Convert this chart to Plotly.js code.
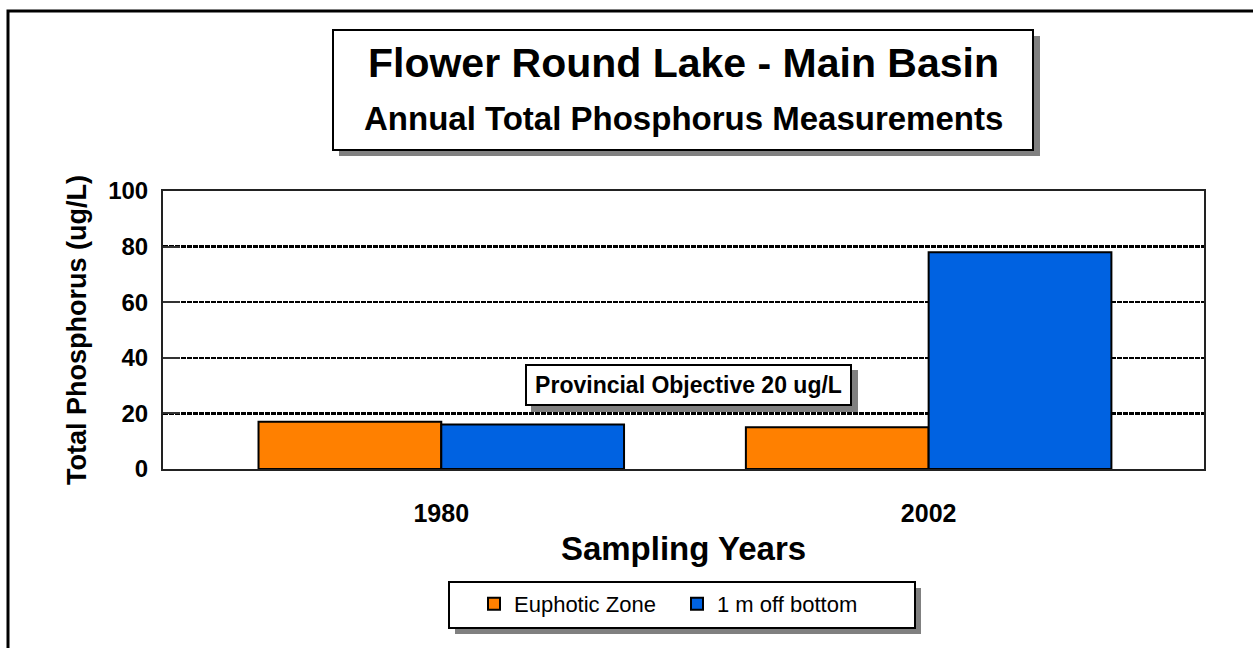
<!DOCTYPE html>
<html>
<head>
<meta charset="utf-8">
<script src="https://cdn.plot.ly/plotly-3.0.1.min.js"></script>
<style>
html,body{margin:0;padding:0;background:#fff;}
#chart{width:1253px;height:648px;}
</style>
</head>
<body>
<div id="chart"></div>
<script>
// ---- data ----
const years = ["1980", "2002"];
const euphoticZone = [17, 15];
const offBottom = [16, 78];
const seriesNames = ["Euphotic Zone", "1 m off bottom"];
const yTicks = [0, 20, 40, 60, 80, 100];
const titleText = "Flower Round Lake - Main Basin";
const subtitleText = "Annual Total Phosphorus Measurements";
const xTitle = "Sampling Years";
const yTitle = "Total Phosphorus (ug/L)";
const objectiveText = "Provincial Objective 20 ug/L";

// ---- layout helpers (page pixels -> paper coords) ----
const W = 1253, H = 648;
const L = 163, R = 1204, T = 191, B = 469;
const px = x => (x - L) / (R - L);
const py = y => (B - y) / (B - T);
const FONT = "Liberation Sans, Arial, sans-serif";

const traces = [
  {type: "bar", name: seriesNames[0], x: years, y: euphoticZone,
   marker: {color: "#FF8000", line: {color: "#000", width: 2}}},
  {type: "bar", name: seriesNames[1], x: years, y: offBottom,
   marker: {color: "#0062E1", line: {color: "#000", width: 2}}}
];

function rect(x0, y0, x1, y1, fill, lineColor, lw) {
  return {type: "rect", xref: "paper", yref: "paper",
    x0: px(x0), x1: px(x1), y0: py(y1), y1: py(y0),
    fillcolor: fill, line: {color: lineColor, width: lw}, layer: "above"};
}

const shapes = [
  // outer frame
  {type: "rect", xref: "paper", yref: "paper", x0: px(8), x1: px(1270), y0: py(670), y1: py(11),
   fillcolor: "rgba(0,0,0,0)", line: {color: "#000", width: 3}, layer: "below"},
  // title box shadow + box
  rect(339, 36, 1040, 156, "#808080", "#808080", 0),
  rect(333, 30, 1033, 150, "#fff", "#000", 2),
  // objective box shadow
  rect(531, 370, 858, 412, "#808080", "#808080", 0),
  // legend box shadow + box
  rect(455, 588, 921, 634, "#808080", "#808080", 0),
  rect(449, 582, 915, 628, "#fff", "#000", 2)
];

const annotations = [
  {xref: "paper", yref: "paper", x: px(683), y: py(63), text: "<b>" + titleText + "</b>",
   showarrow: false, font: {family: FONT, size: 41, color: "#000"}, xanchor: "center", yanchor: "middle"},
  {xref: "paper", yref: "paper", x: px(683), y: py(118), text: "<b>" + subtitleText + "</b>",
   showarrow: false, font: {family: FONT, size: 33, color: "#000"}, xanchor: "center", yanchor: "middle"},
  {xref: "paper", yref: "paper", x: px(688.5), y: py(385), text: "<b>" + objectiveText + "</b>",
   showarrow: false, font: {family: FONT, size: 23, color: "#000"}, xanchor: "center", yanchor: "middle",
   bgcolor: "#fff", bordercolor: "#000", borderwidth: 2, borderpad: 0, width: 323, height: 38}
];

const layout = {
  width: W, height: H,
  margin: {l: L, r: W - R, t: T, b: H - B, pad: 0},
  paper_bgcolor: "#fff", plot_bgcolor: "#fff",
  font: {family: FONT, color: "#000"},
  barmode: "group", bargap: 0.25, bargroupgap: 0,
  showlegend: true,
  legend: {orientation: "h", x: px(474), y: py(583), xanchor: "left", yanchor: "top",
    bgcolor: "rgba(0,0,0,0)", borderwidth: 0,
    font: {family: FONT, size: 22, color: "#000"}, itemwidth: 30, traceorder: "normal",
    entrywidth: 158, entrywidthmode: "pixels"},
  xaxis: {type: "category", range: [-0.571, 1.565], showgrid: false, zeroline: false,
    showline: true, linecolor: "#222", linewidth: 2, mirror: true, ticks: "",
    tickfont: {family: FONT, size: 25, color: "#000", weight: "bold"},
    ticklabelstandoff: 21,
    title: {text: "<b>" + xTitle + "</b>", font: {family: FONT, size: 33, color: "#000"}, standoff: 11},
    fixedrange: true},
  yaxis: {range: [0, 100], tickvals: yTicks, showgrid: true, gridcolor: "#000", gridwidth: 2.5,
    griddash: "5px,1px", zeroline: false,
    showline: true, linecolor: "#222", linewidth: 2, mirror: true,
    ticks: "inside", ticklen: 17, tickwidth: 2, tickcolor: "#333",
    tickfont: {family: FONT, size: 24, color: "#000", weight: "bold"},
    ticklabelstandoff: 8,
    title: {text: "<b>" + yTitle + "</b>", font: {family: FONT, size: 27, color: "#000"}, standoff: 14},
    fixedrange: true},
  shapes: shapes,
  annotations: annotations
};

Plotly.newPlot("chart", traces, layout, {displayModeBar: false, staticPlot: true});
</script>
</body>
</html>
